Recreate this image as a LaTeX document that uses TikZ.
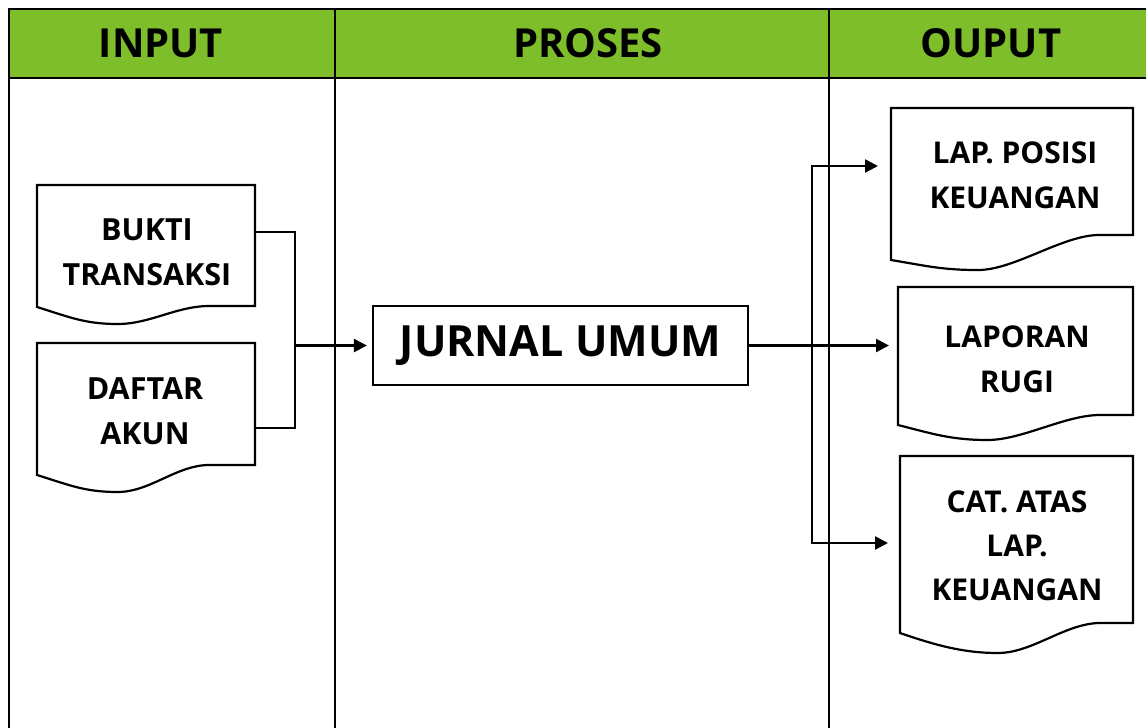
\documentclass[tikz,border=0pt]{standalone}
\usepackage{fontspec}
\setmainfont{Open Sans}
\usetikzlibrary{calc,arrows.meta}
\definecolor{hdrgreen}{RGB}{126,190,42}
\newcommand\docpath[5]{%
  \draw[frame] let \p1=(#1.south west), \p2=(#1.south east), \n1={\x2-\x1} in
  (\p2) -- (#1.north east) -- (#1.north west) -- (\x1,\y1-#2pt)
  .. controls (\x1+0.15*\n1*1pt, \y1-0.4*#2pt-0.6*#3pt) and (\x1+#4*\n1*1pt-0.15*\n1*1pt, \y1-#3pt) .. (\x1+#4*\n1*1pt, \y1-#3pt)
  .. controls (\x1+#4*\n1*1pt+0.15*\n1*1pt, \y1-#3pt) and (\x1+#5*\n1*1pt-0.15*\n1*1pt, \y1) .. (\x1+#5*\n1*1pt, \y1)
  -- cycle;}
\begin{document}
\begin{tikzpicture}[x=1pt,y=-1pt,
  frame/.style={line width=2.2pt, draw=black, line join=miter},
  conn/.style={line width=2.4pt, draw=black},
  tipend/.style={-{Triangle[length=13pt,width=13pt]}},
  tipboth/.style={{Triangle[length=13pt,width=13pt]}-{Triangle[length=13pt,width=13pt]}},
  docbox/.style={draw=none, inner sep=0pt, outer sep=0pt},
  inlabel/.style={align=center, inner sep=0pt, font=\fontsize{30.5}{45}\selectfont\bfseries},
  outlabel/.style={align=center, inner sep=0pt, font=\fontsize{30}{45}\selectfont\bfseries},
  hdr/.style={inner sep=0pt, font=\fontsize{40}{50}\selectfont\bfseries}]
\useasboundingbox (0,0) rectangle (1146,728);
\fill[white] (0,0) rectangle (1146,728);
% table
\fill[hdrgreen] (9,9) rectangle (1146,78);
\draw[frame] (1146,9) -- (9,9) -- (9,728);
\draw[frame] (9,78) -- (1146,78);
\draw[frame] (335,9) -- (335,728);
\draw[frame] (829,9) -- (829,728);
\node[hdr] (hin) at (161,43) {INPUT};
\node[hdr] (hpro) at (588,43) {PROSES};
\node[hdr] (hout) at (991,43) {OUPUT};
% input documents
\node[docbox, minimum width=218pt, minimum height=121pt] (bukti) at (146,245.5) {};
\node[docbox, minimum width=218pt, minimum height=122pt] (daftar) at (146,404) {};
\docpath{bukti}{1}{18}{0.37}{0.79}
\docpath{daftar}{10}{27}{0.37}{0.79}
\node[inlabel] (buktiT) at ($(bukti.center)+(1,7)$) {BUKTI\\TRANSAKSI};
\node[inlabel] (daftarT) at ($(daftar.center)+(-1,7)$) {DAFTAR\\AKUN};
% process
\node[frame, draw, inner sep=0pt, minimum width=375pt, minimum height=79pt,
  font=\fontsize{43}{50}\selectfont\bfseries] (jurnal) at (560.5,345.5) {JURNAL UMUM};
% output documents
\node[docbox, minimum width=242pt, minimum height=127pt] (posisi) at (1012,171.5) {};
\node[docbox, minimum width=235pt, minimum height=128pt] (rugi) at (1015.5,351) {};
\node[docbox, minimum width=233pt, minimum height=167pt] (cat) at (1016.5,539.5) {};
\docpath{posisi}{25}{35}{0.36}{0.86}
\docpath{rugi}{10}{25}{0.38}{0.86}
\docpath{cat}{10}{30}{0.42}{0.86}
\node[outlabel] (posisiT) at ($(posisi.center)+(3,4)$) {LAP. POSISI\\KEUANGAN};
\node[outlabel] (rugiT) at ($(rugi.center)+(1.5,8.5)$) {LAPORAN\\RUGI};
\node[outlabel, font=\fontsize{30}{44}\selectfont\bfseries] (catT) at ($(cat.center)+(0.5,6.5)$) {CAT. ATAS\\LAP.\\KEUANGAN};
% connectors
\coordinate (bx) at ($(bukti.north east)+(0,47)$);
\coordinate (dx) at ($(daftar.north east)+(0,85)$);
\coordinate (jin) at (295,0);
\draw[conn] (bx) -| (jin |- dx) -- (dx);
\draw[conn, tipend, shorten >=5pt] (jin |- jurnal.west) -- (jurnal.west);
\draw[conn, tipend, shorten >=9pt] (jurnal.east) -- (jurnal.east -| rugi.west);
\coordinate (pin) at ($(posisi.north west)+(0,58)$);
\coordinate (cin) at ($(cat.north west)+(0,87)$);
\coordinate (bk) at (812,0);
\draw[conn, tipboth, shorten <=13pt, shorten >=12pt] (pin) -| (bk |- cin) -- (cin);
\end{tikzpicture}
\end{document}
